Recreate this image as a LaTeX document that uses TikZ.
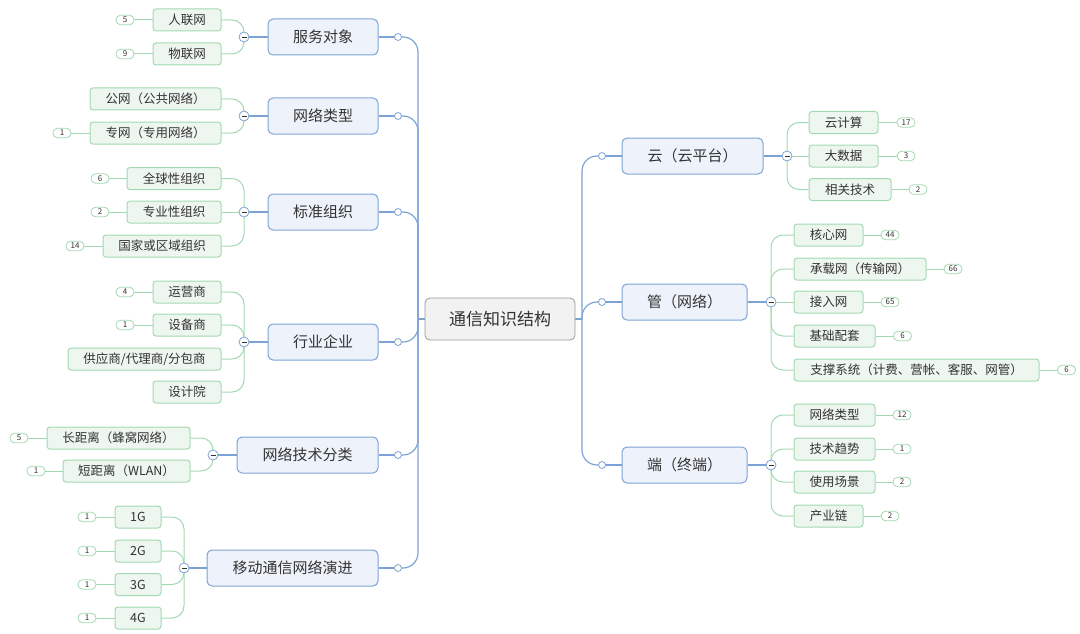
\documentclass[tikz,border=0pt]{standalone}
\usepackage{fontspec}
\setmainfont{Noto Sans CJK SC}
\usetikzlibrary{backgrounds}

\definecolor{mapBlue}{HTML}{7DA3D6}
\definecolor{mapBlueFill}{HTML}{EEF3FB}
\definecolor{mapGreen}{HTML}{A3D9B1}
\definecolor{mapGreenFill}{HTML}{EEF6F0}
\definecolor{mapText}{HTML}{333333}

\tikzset{
	rootBox/.style={rectangle, rounded corners=5pt, draw=gray!80, fill=gray!10, line width=0.8pt, minimum height=42pt, inner sep=0pt, text=mapText, font=\fontsize{17}{20}\selectfont},
	topicBox/.style={rectangle, rounded corners=5pt, draw=mapBlue, fill=mapBlueFill, line width=1pt, minimum height=36pt, inner sep=0pt, text=mapText, font=\fontsize{15}{18}\selectfont},
	leafBox/.style={rectangle, rounded corners=3pt, draw=mapGreen, fill=mapGreenFill, line width=1pt, minimum height=22pt, inner sep=0pt, text=mapText, font=\fontsize{12.5}{15}\selectfont},
	countTag/.style={rectangle, rounded corners=4.5pt, draw=mapGreen, fill=white, line width=0.8pt, minimum width=18pt, minimum height=9.5pt, inner sep=0pt, text=mapText, font=\fontsize{8}{9}\selectfont},
	joinDot/.style={circle, draw=mapBlue, fill=white, line width=0.8pt, minimum size=7pt, inner sep=0pt},
	foldMark/.style={circle, draw=mapBlue, fill=white, line width=0.8pt, minimum size=10pt, inner sep=0pt,
		path picture={\draw[mapText, line width=0.8pt] ([xshift=-2.5pt]path picture bounding box.center) -- ([xshift=2.5pt]path picture bounding box.center);}},
	blueLink/.style={draw=mapBlue, line width=1.2pt},
	greenLink/.style={draw=mapGreen, line width=1pt},
}

\begin{document}
\begin{tikzpicture}[x=1pt, y=-1pt]
	\useasboundingbox (0,0) rectangle (1080,634);

	% root
	\node[rootBox, minimum width=150pt](rootBox) at (500,319){通信知识结构};
	\coordinate (leftHub)  at (418,319);
	\coordinate (rightHub) at (582,319);

	% left topics
	\node[topicBox, minimum width=110pt](serviceBox)   at (323,37)   {服务对象};
	\node[topicBox, minimum width=110pt](netTypeBox)   at (323,116)  {网络类型};
	\node[topicBox, minimum width=110pt](standardBox)  at (323,212)  {标准组织};
	\node[topicBox, minimum width=110pt](industryBox)  at (323,342)  {行业企业};
	\node[topicBox, minimum width=141pt](techClassBox) at (307.5,455){网络技术分类};
	\node[topicBox, minimum width=171pt](mobileBox)    at (292.5,568){移动通信网络演进};

	\node[joinDot](serviceDot)   at (398,37){};
	\node[joinDot](netTypeDot)   at (398,116){};
	\node[joinDot](standardDot)  at (398,212){};
	\node[joinDot](industryDot)  at (398,342){};
	\node[joinDot](techClassDot) at (398,455){};
	\node[joinDot](mobileDot)    at (398,568){};

	\node[foldMark](serviceFold)   at (244,37){};
	\node[foldMark](netTypeFold)   at (244,116){};
	\node[foldMark](standardFold)  at (244,212){};
	\node[foldMark](industryFold)  at (244,342){};
	\node[foldMark](techClassFold) at (213,455){};
	\node[foldMark](mobileFold)    at (184,568){};

	% right topics
	\node[topicBox, minimum width=141pt](cloudBox) at (692.5,156){云（云平台）};
	\node[topicBox, minimum width=125pt](pipeBox)  at (684.5,302){管（网络）};
	\node[topicBox, minimum width=125pt](endBox)   at (684.5,465){端（终端）};

	\node[joinDot](cloudDot) at (602,156){};
	\node[joinDot](pipeDot)  at (602,302){};
	\node[joinDot](endDot)   at (602,465){};

	\node[foldMark](cloudFold) at (787,156){};
	\node[foldMark](pipeFold)  at (771,302){};
	\node[foldMark](endFold)   at (771,465){};

	% left leaves
	\node[leafBox, minimum width=68pt](renlianBox)     at (187,20)   {人联网};
	\node[leafBox, minimum width=68pt](wulianBox)      at (187,54)   {物联网};
	\node[leafBox, minimum width=131pt](publicNetBox)  at (155.5,99) {公网（公共网络）};
	\node[leafBox, minimum width=131pt](privateNetBox) at (155.5,133){专网（专用网络）};
	\node[leafBox, minimum width=94pt](globalOrgBox)   at (174,178.5){全球性组织};
	\node[leafBox, minimum width=94pt](proOrgBox)      at (174,212)  {专业性组织};
	\node[leafBox, minimum width=118pt](regionOrgBox)  at (162,246)  {国家或区域组织};
	\node[leafBox, minimum width=68pt](operatorBox)    at (187,292)  {运营商};
	\node[leafBox, minimum width=68pt](vendorBox)      at (187,325)  {设备商};
	\node[leafBox, minimum width=153pt](supplierBox)   at (144.5,359){供应商/代理商/分包商};
	\node[leafBox, minimum width=68pt](designBox)      at (187,392)  {设计院};
	\node[leafBox, minimum width=143pt](longRangeBox)  at (118.5,438){长距离（蜂窝网络）};
	\node[leafBox, minimum width=127pt](shortRangeBox) at (126.5,471){短距离（WLAN）};
	\node[leafBox, minimum width=46pt](gen1Box)        at (138,517)  {1G};
	\node[leafBox, minimum width=46pt](gen2Box)        at (138,551)  {2G};
	\node[leafBox, minimum width=46pt](gen3Box)        at (138,584.5){3G};
	\node[leafBox, minimum width=46pt](gen4Box)        at (138,618)  {4G};

	\node[countTag](renlianTag)    at (125,20)   {5};
	\node[countTag](wulianTag)     at (125,54)   {9};
	\node[countTag](privateNetTag) at (62,133)   {1};
	\node[countTag](globalOrgTag)  at (100,178.5){6};
	\node[countTag](proOrgTag)     at (100,212)  {2};
	\node[countTag](regionOrgTag)  at (75,246)   {14};
	\node[countTag](operatorTag)   at (125,292)  {4};
	\node[countTag](vendorTag)     at (125,325)  {1};
	\node[countTag](longRangeTag)  at (19,438)   {5};
	\node[countTag](shortRangeTag) at (36,471)   {1};
	\node[countTag](gen1Tag)       at (87,517)   {1};
	\node[countTag](gen2Tag)       at (87,551)   {1};
	\node[countTag](gen3Tag)       at (87,584.5) {1};
	\node[countTag](gen4Tag)       at (87,618)   {1};

	% right leaves
	\node[leafBox, minimum width=69pt](cloudCalcBox)    at (843.5,122.5){云计算};
	\node[leafBox, minimum width=69pt](bigDataBox)      at (843.5,156)  {大数据};
	\node[leafBox, minimum width=82pt](relatedTechBox)  at (850,189.5)  {相关技术};
	\node[leafBox, minimum width=69pt](coreNetBox)      at (828.5,235)  {核心网};
	\node[leafBox, minimum width=132pt](bearerNetBox)   at (860,269)    {承载网（传输网）};
	\node[leafBox, minimum width=69pt](accessNetBox)    at (828.5,302)  {接入网};
	\node[leafBox, minimum width=81pt](baseFacilityBox) at (834.5,336)  {基础配套};
	\node[leafBox, minimum width=245pt](supportSysBox)  at (916.5,370)  {支撑系统（计费、营帐、客服、网管）};
	\node[leafBox, minimum width=81pt](termNetTypeBox)  at (834.5,415)  {网络类型};
	\node[leafBox, minimum width=81pt](techTrendBox)    at (834.5,449)  {技术趋势};
	\node[leafBox, minimum width=81pt](sceneBox)        at (834.5,482)  {使用场景};
	\node[leafBox, minimum width=69pt](chainBox)        at (828.5,516)  {产业链};

	\node[countTag](cloudCalcTag)    at (906,122.5) {17};
	\node[countTag](bigDataTag)      at (906,156)   {3};
	\node[countTag](relatedTechTag)  at (918,189.5) {2};
	\node[countTag](coreNetTag)      at (890,235)   {44};
	\node[countTag](bearerNetTag)    at (953,269)   {66};
	\node[countTag](accessNetTag)    at (890,302)   {65};
	\node[countTag](baseFacilityTag) at (902.5,336) {6};
	\node[countTag](supportSysTag)   at (1066.5,370){6};
	\node[countTag](termNetTypeTag)  at (902,415)   {12};
	\node[countTag](techTrendTag)    at (902,449)   {1};
	\node[countTag](sceneTag)        at (902,482)   {2};
	\node[countTag](chainTag)        at (890,516)   {2};

	% connectors
	\begin{scope}[on background layer]
		\draw[blueLink] (rootBox.west) -- (leftHub);
		\draw[blueLink] (rootBox.east) -- (rightHub);
		\foreach \topic in {service, netType, standard, industry, techClass, mobile} {
			\draw[blueLink, rounded corners=15pt] (leftHub) |- (\topic Dot.center);
			\draw[blueLink] (\topic Box.east) -- (\topic Dot.center);
			\draw[blueLink] (\topic Box.west) -- (\topic Fold.center);
		}
		\foreach \topic in {cloud, pipe, end} {
			\draw[blueLink, rounded corners=15pt] (rightHub) |- (\topic Dot.center);
			\draw[blueLink] (\topic Box.west) -- (\topic Dot.center);
			\draw[blueLink] (\topic Box.east) -- (\topic Fold.center);
		}

		% left branches
		\foreach \fold/\leaf in {service/renlian, service/wulian, netType/publicNet, netType/privateNet,
			standard/globalOrg, standard/regionOrg, industry/operator, industry/vendor,
			industry/supplier, industry/design, techClass/longRange, techClass/shortRange,
			mobile/gen1, mobile/gen2, mobile/gen3, mobile/gen4}
			\draw[greenLink, rounded corners=12pt] (\fold Fold.center) |- (\leaf Box.east);
		\draw[greenLink] (standardFold.center) -- (proOrgBox.east);
		\foreach \leaf in {renlian, wulian, privateNet, globalOrg, proOrg, regionOrg, operator, vendor,
			longRange, shortRange, gen1, gen2, gen3, gen4}
			\draw[greenLink] (\leaf Box.west) -- (\leaf Tag.east);

		% right branches
		\foreach \fold/\leaf in {cloud/cloudCalc, cloud/relatedTech, pipe/coreNet, pipe/bearerNet,
			pipe/baseFacility, pipe/supportSys, end/termNetType, end/techTrend, end/scene, end/chain}
			\draw[greenLink, rounded corners=12pt] (\fold Fold.center) |- (\leaf Box.west);
		\draw[greenLink] (cloudFold.center) -- (bigDataBox.west);
		\draw[greenLink] (pipeFold.center) -- (accessNetBox.west);
		\foreach \leaf in {cloudCalc, bigData, relatedTech, coreNet, bearerNet, accessNet, baseFacility,
			supportSys, termNetType, techTrend, scene, chain}
			\draw[greenLink] (\leaf Box.east) -- (\leaf Tag.west);
	\end{scope}
\end{tikzpicture}
\end{document}
